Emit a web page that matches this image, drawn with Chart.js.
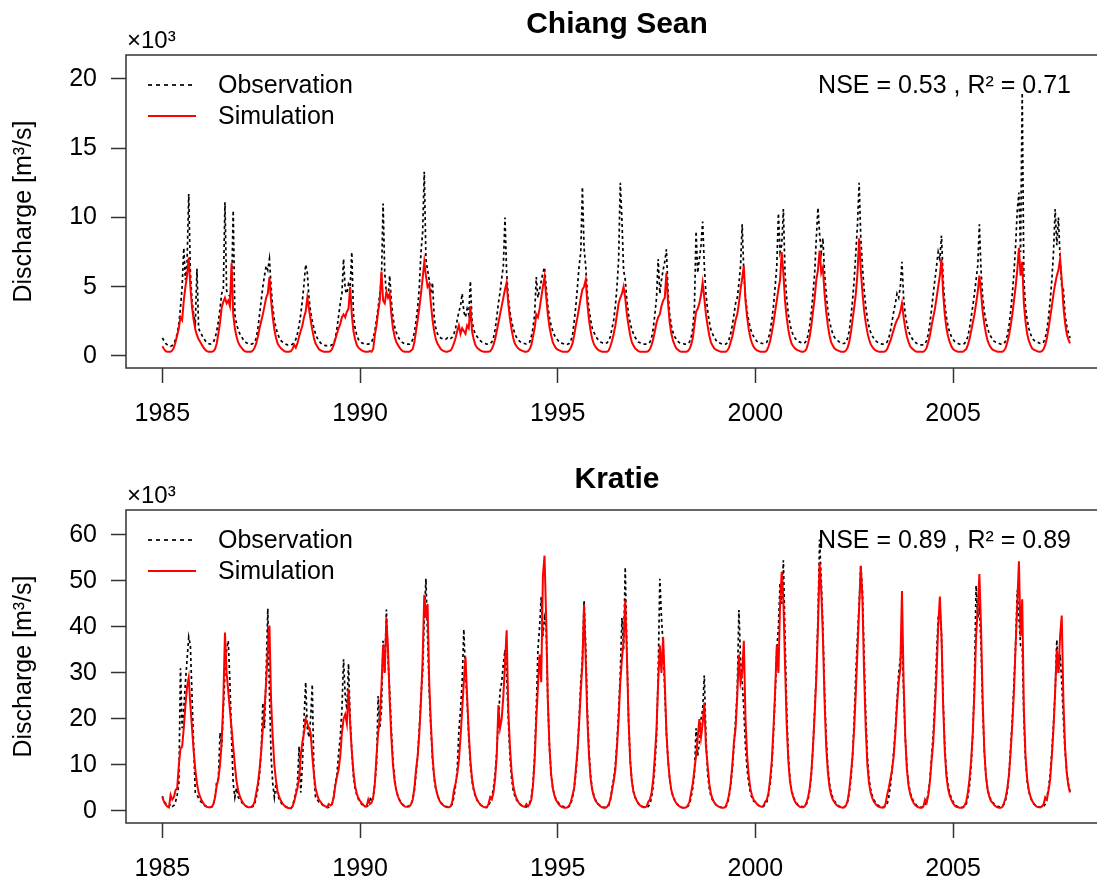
<!DOCTYPE html>
<html>
<head>
<meta charset="utf-8">
<title>Chiang Sean / Kratie discharge</title>
<script src="https://cdn.jsdelivr.net/npm/chart.js@4.4.1/dist/chart.umd.min.js"></script>
<style>
  html, body { margin: 0; padding: 0; background: #fff; overflow: hidden; }
  #wrap { position: relative; width: 1097px; height: 881px; overflow: hidden; }
  .panel { position: absolute; left: 0; width: 1120px; }
</style>
</head>
<body>
<div id="wrap">
  <div class="panel" style="top:0;height:440px"><canvas id="csChart"></canvas></div>
  <div class="panel" style="top:440px;height:441px"><canvas id="krChart"></canvas></div>
</div>
<script>
// Discharge in 10^3 m3/s, two values per month (1st and 16th)
const years = [1985,1986,1987,1988,1989,1990,1991,1992,1993,1994,1995,1996,
               1997,1998,1999,2000,2001,2002,2003,2004,2005,2006,2007];
const stepsPerYear = 24;
const xTicks = [1985, 1990, 1995, 2000, 2005];
const csTicksY = [0, 5, 10, 15, 20];
const krTicksY = [0, 10, 20, 30, 40, 50, 60];

// Chiang Sean - observation
const csObs = [
  [1.3,1.1,0.9,0.8,0.75,0.7,0.75,0.9,1.2,1.6,2.3,3.5,5.0,7.8,5.5,6.8,11.7,6.0,4.0,3.0,2.4,6.3,2.0,1.7],
  [1.5,1.3,1.1,1.0,0.9,0.85,0.9,1.0,1.3,1.8,2.5,3.4,4.5,4.8,11.1,4.7,4.5,4.3,4.6,10.5,3.0,2.3,1.9,1.6],
  [1.4,1.2,1.05,0.95,0.9,0.85,0.85,0.9,1.0,1.3,2.0,3.0,4.0,5.0,5.8,6.5,6.2,7.0,5.0,3.5,2.6,2.0,1.6,1.3],
  [1.1,1.0,0.9,0.85,0.8,0.8,0.8,0.85,0.95,1.2,1.6,2.2,3.0,4.0,5.2,6.6,6.0,4.2,3.2,2.5,2.0,1.6,1.3,1.1],
  [0.95,0.85,0.8,0.75,0.75,0.75,0.75,0.8,0.9,1.3,2.0,2.9,3.8,4.5,7.0,4.8,4.5,5.2,5.0,7.5,3.0,2.0,1.5,1.2],
  [1.05,0.95,0.9,0.85,0.85,0.85,0.9,1.0,1.3,1.8,2.6,3.5,4.5,5.5,11.0,6.0,4.5,4.2,5.8,4.0,2.8,2.1,1.7,1.4],
  [1.2,1.05,0.95,0.9,0.85,0.85,0.85,0.95,1.2,1.7,2.5,3.5,5.0,7.5,8.9,13.3,7.0,6.2,5.5,4.5,5.3,2.8,2.0,1.6],
  [1.4,1.3,1.25,1.2,1.2,1.3,1.2,1.25,1.35,1.6,2.0,2.6,3.2,3.6,4.5,3.2,2.8,3.4,3.0,5.4,2.5,1.9,1.6,1.4],
  [1.25,1.1,1.0,0.95,0.9,0.85,0.85,0.9,1.0,1.3,1.9,2.8,3.8,4.6,5.6,6.5,10.0,6.0,4.2,3.2,2.5,2.0,1.6,1.35],
  [1.15,1.05,0.95,0.9,0.9,0.85,0.9,1.0,1.4,2.0,3.0,5.7,4.2,4.8,5.4,6.0,6.4,5.0,3.6,2.8,2.2,1.8,1.5,1.3],
  [1.15,1.0,0.95,0.9,0.85,0.8,0.85,0.9,1.1,1.5,2.5,3.6,5.0,6.5,7.5,12.2,7.8,6.5,4.5,3.4,2.6,2.0,1.7,1.45],
  [1.25,1.1,1.0,0.95,0.9,0.9,0.95,1.1,1.4,2.0,2.6,3.6,5.0,7.0,12.5,9.8,6.2,5.5,4.0,3.0,2.4,1.9,1.6,1.35],
  [1.15,1.0,0.95,0.9,0.85,0.85,0.85,0.9,1.0,1.3,2.0,3.0,4.2,7.0,4.5,5.5,6.2,6.8,7.7,4.5,3.0,2.2,1.7,1.4],
  [1.2,1.05,0.95,0.9,0.9,0.85,0.85,0.9,1.0,1.3,2.0,3.5,9.0,6.0,7.0,8.0,9.7,6.5,4.5,3.3,2.5,1.9,1.6,1.35],
  [1.15,1.0,0.95,0.9,0.85,0.85,0.85,0.95,1.2,1.6,2.2,3.0,3.8,4.2,5.2,6.5,9.5,6.0,4.2,3.2,2.5,2.0,1.6,1.4],
  [1.2,1.05,1.0,0.95,0.9,0.9,0.9,1.0,1.3,1.8,2.6,3.6,5.0,6.5,10.3,7.5,8.0,10.6,6.0,4.2,3.0,2.3,1.8,1.5],
  [1.3,1.15,1.05,1.0,0.95,0.9,0.95,1.1,1.5,2.2,3.2,4.5,6.0,8.5,10.7,8.8,7.5,8.5,6.0,4.5,3.3,2.5,2.0,1.6],
  [1.35,1.2,1.1,1.0,0.95,0.9,0.9,1.0,1.3,1.8,2.8,4.0,5.5,7.5,9.5,12.5,8.5,6.5,4.8,3.6,2.7,2.1,1.7,1.45],
  [1.25,1.1,1.0,0.95,0.9,0.85,0.85,0.9,1.0,1.3,1.8,2.5,3.2,3.8,4.5,4.2,5.0,6.8,4.2,3.0,2.3,1.8,1.5,1.3],
  [1.1,1.0,0.9,0.85,0.8,0.8,0.8,0.9,1.1,1.6,2.4,3.4,4.5,5.5,6.5,7.5,7.0,8.7,5.5,3.8,2.8,2.1,1.7,1.4],
  [1.2,1.05,0.95,0.9,0.85,0.85,0.85,0.9,1.1,1.4,2.0,2.8,3.6,4.5,5.5,6.5,9.5,6.2,4.3,3.2,2.5,2.0,1.6,1.4],
  [1.2,1.05,1.0,0.95,0.9,0.85,0.85,0.9,1.1,1.5,2.2,3.2,4.5,6.0,8.0,10.5,11.8,7.5,19.0,5.5,3.5,2.6,2.0,1.6],
  [1.3,1.15,1.05,1.0,0.95,0.9,0.9,1.0,1.3,1.9,2.8,4.0,5.5,7.5,10.6,8.0,10.0,7.0,5.0,4.8,3.0,2.2,1.7,1.3]
];

// Chiang Sean - simulation
const csSim = [
  [0.7,0.5,0.35,0.3,0.3,0.3,0.4,0.6,1.0,1.5,2.0,2.8,2.6,4.0,5.0,5.8,7.1,5.0,3.5,2.6,1.9,1.5,1.2,1.0],
  [0.8,0.6,0.45,0.35,0.3,0.3,0.3,0.35,0.5,0.9,1.6,2.4,3.5,3.9,4.2,3.8,4.0,3.6,6.7,3.0,2.0,1.4,1.0,0.75],
  [0.6,0.45,0.35,0.3,0.3,0.3,0.3,0.4,0.6,0.9,1.4,2.0,2.5,3.0,3.6,4.2,4.5,5.7,4.0,2.8,1.9,1.3,0.9,0.7],
  [0.55,0.45,0.35,0.3,0.3,0.3,0.35,0.5,0.8,0.6,0.9,1.4,1.8,2.2,2.8,3.2,4.2,3.4,2.6,1.9,1.3,0.9,0.7,0.5],
  [0.4,0.35,0.3,0.3,0.3,0.3,0.35,0.5,0.8,1.2,1.6,2.0,2.3,2.8,3.0,2.8,3.2,3.4,5.0,3.0,1.8,1.2,0.8,0.6],
  [0.5,0.4,0.35,0.3,0.3,0.3,0.35,0.3,0.5,1.5,2.2,3.2,4.0,6.1,4.0,3.8,4.6,4.2,4.5,3.0,2.0,1.4,1.0,0.8],
  [0.6,0.45,0.35,0.3,0.3,0.3,0.3,0.4,0.5,1.0,1.8,2.6,3.5,4.5,5.6,6.8,5.8,5.0,5.2,3.8,2.6,1.8,1.2,0.9],
  [0.7,0.5,0.4,0.35,0.3,0.3,0.35,0.4,0.6,0.9,1.3,1.8,2.2,1.6,2.0,1.8,1.6,2.2,2.0,3.6,1.8,1.2,0.8,0.6],
  [0.5,0.4,0.35,0.3,0.3,0.3,0.3,0.35,0.5,0.8,1.2,1.8,2.4,3.0,3.6,4.2,4.8,5.3,3.8,2.7,1.9,1.3,0.9,0.7],
  [0.55,0.45,0.4,0.35,0.3,0.3,0.35,0.5,0.8,1.4,2.0,3.0,2.8,3.4,4.2,5.0,5.7,4.3,3.0,2.1,1.5,1.0,0.75,0.55],
  [0.45,0.4,0.35,0.3,0.3,0.3,0.3,0.4,0.6,0.9,1.5,2.2,2.8,3.5,4.2,4.8,5.0,5.5,3.8,2.6,1.8,1.2,0.85,0.65],
  [0.5,0.4,0.35,0.3,0.3,0.3,0.3,0.4,0.7,1.1,1.6,2.2,3.0,3.8,4.2,4.5,5.0,4.2,3.0,2.2,1.5,1.0,0.75,0.55],
  [0.45,0.35,0.3,0.3,0.3,0.3,0.3,0.35,0.5,0.8,1.2,1.8,2.4,2.8,3.0,3.6,4.0,4.2,6.0,3.8,2.4,1.6,1.1,0.8],
  [0.55,0.45,0.35,0.3,0.3,0.3,0.3,0.35,0.5,0.8,1.3,2.2,3.2,3.4,3.8,4.4,5.3,4.2,3.0,2.2,1.5,1.0,0.75,0.55],
  [0.45,0.4,0.35,0.3,0.3,0.3,0.3,0.4,0.6,1.0,1.4,2.0,2.6,3.0,3.8,4.8,5.6,6.5,4.0,2.8,1.9,1.3,0.9,0.65],
  [0.5,0.4,0.35,0.3,0.3,0.3,0.3,0.4,0.7,1.1,1.7,2.4,3.2,4.0,4.8,5.5,7.5,6.0,4.0,2.8,1.9,1.3,0.9,0.7],
  [0.55,0.45,0.4,0.35,0.3,0.3,0.35,0.5,0.9,1.4,2.2,3.2,4.2,5.5,6.2,7.6,6.0,6.4,4.5,3.2,2.2,1.5,1.0,0.75],
  [0.55,0.45,0.4,0.35,0.3,0.3,0.3,0.4,0.6,1.0,1.7,2.6,3.5,4.5,6.0,8.5,6.2,4.6,3.3,2.4,1.7,1.2,0.85,0.65],
  [0.5,0.4,0.35,0.3,0.3,0.3,0.3,0.35,0.5,0.8,1.1,1.5,1.9,2.3,2.6,2.8,3.2,3.8,2.8,2.0,1.4,1.0,0.7,0.55],
  [0.45,0.35,0.3,0.3,0.3,0.3,0.3,0.4,0.6,1.0,1.5,2.2,2.8,3.4,4.2,5.0,5.8,7.0,4.5,3.0,2.0,1.4,1.0,0.7],
  [0.5,0.4,0.35,0.3,0.3,0.3,0.3,0.4,0.5,0.8,1.2,1.8,2.4,3.0,3.8,4.6,5.8,4.6,3.2,2.3,1.6,1.1,0.8,0.6],
  [0.45,0.4,0.35,0.3,0.3,0.3,0.3,0.4,0.6,1.0,1.5,2.2,3.0,4.0,5.0,6.2,7.8,5.8,6.8,3.8,2.5,1.6,1.1,0.8],
  [0.55,0.45,0.4,0.35,0.3,0.3,0.35,0.5,0.8,1.3,2.0,2.8,3.6,4.5,5.2,5.8,6.2,7.0,5.5,3.6,2.4,1.6,1.2,0.9]
];

// Kratie - observation
const krObs = [
  [3.2,2.2,1.6,1.2,1.0,1.5,1.0,1.2,2.0,3.5,6.0,31.0,18.0,22.0,28.0,33.0,37.8,36.0,25.0,14.0,4.0,3.5,2.8,2.2],
  [1.8,1.4,1.1,0.9,0.8,0.8,0.9,1.5,3.0,6.5,7.0,17.0,14.0,22.0,30.0,35.0,37.0,28.0,16.0,6.0,3.0,5.0,3.0,2.5],
  [2.0,1.5,1.2,1.0,0.9,0.8,0.9,1.0,1.5,3.0,5.0,8.0,13.0,23.5,18.0,30.0,44.0,26.0,12.0,6.0,3.0,6.0,3.5,2.5],
  [1.8,1.4,1.1,0.9,0.8,0.7,0.6,1.0,2.5,4.0,6.0,14.0,4.0,10.0,20.0,28.0,18.0,16.0,20.0,27.5,8.0,3.0,2.5,2.0],
  [1.8,1.4,1.1,0.9,0.8,0.8,1.0,1.5,3.0,6.0,8.0,12.5,16.0,22.0,33.0,25.0,22.0,32.0,20.0,13.0,7.5,5.0,3.5,2.6],
  [2.0,1.5,1.2,1.0,1.0,1.2,3.0,2.0,3.0,6.0,10.0,25.0,18.0,22.0,37.0,30.0,43.8,33.0,26.0,18.0,11.0,7.0,4.5,3.2],
  [2.4,1.8,1.4,1.1,1.0,1.0,1.1,1.5,2.5,4.5,8.0,12.0,18.0,25.0,30.0,42.0,50.5,38.0,26.0,18.0,11.0,7.0,4.8,3.4],
  [2.5,1.9,1.5,1.2,1.0,0.9,0.9,1.0,1.5,3.0,5.5,9.0,17.5,22.0,28.0,39.5,30.0,24.0,16.0,10.0,6.5,4.5,3.2,2.4],
  [1.8,1.4,1.1,0.9,0.8,0.8,1.0,2.0,3.0,5.0,8.0,13.0,20.0,26.0,28.0,32.0,35.0,30.0,20.0,12.0,7.0,4.5,3.2,2.4],
  [2.0,1.5,1.2,1.0,0.9,0.9,1.2,1.8,3.0,6.0,12.0,22.0,35.0,40.0,46.5,38.0,42.0,40.0,24.0,14.0,8.0,5.0,3.4,2.5],
  [2.0,1.5,1.2,1.0,0.9,0.8,0.8,1.0,1.5,3.0,5.0,8.0,13.0,20.0,28.0,33.0,45.8,36.0,22.0,13.0,7.5,4.8,3.3,2.4],
  [1.8,1.4,1.1,0.9,0.8,0.8,0.9,1.2,2.5,5.0,7.0,10.0,15.0,22.0,30.0,42.0,35.0,53.0,35.0,20.0,11.0,6.5,4.2,3.0],
  [2.2,1.6,1.3,1.0,0.9,0.8,0.8,1.0,1.5,3.0,5.5,10.0,16.0,30.0,50.5,42.0,36.0,26.0,17.0,11.0,7.0,4.5,3.2,2.4],
  [1.8,1.3,1.0,0.8,0.7,0.7,0.8,1.0,1.5,3.0,5.0,8.0,18.0,12.0,15.0,20.0,22.0,29.5,16.0,8.0,5.0,3.3,2.4,1.8],
  [1.4,1.1,0.9,0.8,0.7,0.7,0.9,1.5,3.0,5.5,9.0,14.0,20.0,26.0,43.7,33.0,28.0,22.0,14.0,9.0,6.0,4.0,2.8,2.1],
  [2.0,1.5,1.2,1.0,0.9,1.0,1.5,2.0,3.5,6.0,10.0,17.0,25.0,35.0,40.0,49.5,45.0,54.5,38.0,22.0,12.0,7.0,4.5,3.2],
  [2.3,1.7,1.3,1.1,1.0,0.9,1.0,1.5,2.5,4.5,8.0,14.0,22.0,30.0,42.0,59.0,50.0,40.0,26.0,16.0,9.5,6.0,4.0,2.9],
  [2.2,1.6,1.3,1.0,0.9,0.8,0.9,1.2,2.0,4.0,7.0,12.0,20.0,30.0,38.0,45.0,53.5,48.0,34.0,21.0,12.0,7.0,4.6,3.3],
  [2.4,1.8,1.4,1.1,1.0,0.9,0.9,1.0,1.5,3.0,5.5,9.0,13.0,18.0,24.0,30.0,33.0,36.5,26.0,16.0,9.5,6.0,4.0,2.9],
  [2.1,1.6,1.2,1.0,0.9,0.8,0.9,1.2,2.0,4.0,7.0,12.0,17.0,24.0,34.0,42.0,44.0,38.0,24.0,14.0,8.5,5.5,3.8,2.8],
  [2.0,1.5,1.1,0.9,0.8,0.8,0.8,1.0,1.5,3.0,5.5,10.0,17.0,28.0,49.0,42.0,44.0,36.0,22.0,13.0,7.5,4.8,3.3,2.4],
  [2.0,1.5,1.2,1.0,0.9,0.9,1.0,1.5,2.5,4.5,8.0,14.0,20.0,28.0,36.0,48.0,42.0,36.0,35.7,20.0,11.0,6.5,4.3,3.0],
  [2.1,1.6,1.2,1.0,0.9,0.8,0.9,1.0,1.5,3.0,5.0,8.0,13.0,19.0,26.0,37.2,30.0,34.0,28.0,20.0,13.0,8.5,6.0,4.3]
];

// Kratie - simulation
const krSim = [
  [3.0,2.0,1.4,1.0,0.8,3.5,2.5,3.0,4.5,5.0,10.0,13.5,14.0,18.0,23.0,27.0,29.0,23.0,18.0,13.0,9.0,6.0,4.0,3.0],
  [2.2,1.6,1.2,0.9,0.8,0.8,0.9,1.5,3.0,5.5,7.0,10.0,15.0,24.0,38.8,30.0,26.0,22.0,18.0,14.0,10.0,6.5,4.5,3.2],
  [2.4,1.7,1.3,1.0,0.8,0.8,0.9,1.2,2.0,4.0,6.0,9.0,13.0,18.0,22.0,28.0,35.0,40.3,24.0,16.0,10.0,6.5,4.2,3.0],
  [2.2,1.6,1.2,0.9,0.7,0.6,0.6,1.0,2.0,3.5,5.0,7.0,12.0,15.0,17.0,20.0,19.0,18.0,17.0,12.0,8.0,5.0,3.5,2.5],
  [2.0,1.5,1.2,1.0,0.8,1.5,1.2,1.5,3.0,5.5,7.5,9.0,12.0,17.0,20.0,21.0,19.0,26.5,19.0,13.0,8.5,5.5,3.8,2.8],
  [2.2,1.7,1.3,1.0,1.0,2.5,1.5,1.8,3.0,6.0,12.0,17.0,20.0,27.0,36.0,30.0,42.0,35.0,24.0,16.0,10.0,6.5,4.5,3.2],
  [2.3,1.7,1.3,1.0,0.9,0.9,1.0,1.5,2.5,5.0,9.0,12.0,17.0,24.0,33.0,47.0,42.0,45.0,28.0,19.0,12.0,7.5,5.0,3.5],
  [2.4,1.8,1.4,1.1,0.9,0.8,0.8,1.0,2.0,4.5,6.0,8.0,11.0,16.0,22.0,28.0,33.5,25.0,17.0,11.0,7.0,4.8,3.4,2.5],
  [1.9,1.4,1.1,0.9,0.8,0.8,1.5,3.0,2.5,4.0,7.0,12.0,23.0,18.0,20.0,25.0,32.0,39.3,22.0,14.0,8.5,5.5,3.8,2.7],
  [2.0,1.5,1.2,1.0,0.9,1.5,1.0,1.5,2.5,5.5,11.0,20.0,27.0,34.0,28.0,51.0,55.5,42.0,24.0,14.0,8.0,5.0,3.4,2.4],
  [1.8,1.3,1.0,0.8,0.7,0.7,0.8,1.2,2.0,3.5,5.0,9.0,13.0,19.0,26.0,32.0,44.8,33.0,20.0,12.0,7.0,4.5,3.1,2.2],
  [1.7,1.3,1.0,0.8,0.7,0.7,0.9,1.5,2.5,4.5,6.5,9.0,14.0,20.0,28.0,33.0,37.0,45.8,34.0,20.0,11.0,6.5,4.2,3.0],
  [2.2,1.6,1.2,1.0,0.8,0.8,1.0,2.0,2.5,4.0,7.0,12.0,18.0,28.0,36.0,30.0,37.8,28.0,17.0,11.0,7.0,4.5,3.2,2.3],
  [1.7,1.3,1.0,0.8,0.7,0.7,0.8,1.2,2.0,4.0,6.0,9.0,12.0,16.0,20.0,16.0,19.0,23.5,14.0,10.0,6.0,3.8,2.6,1.9],
  [1.4,1.1,0.9,0.8,0.7,0.7,1.0,2.0,3.5,6.0,10.0,15.0,18.0,25.0,34.0,28.0,30.0,37.0,20.0,12.0,7.5,4.8,3.3,2.4],
  [2.0,1.5,1.2,1.0,0.9,1.2,2.0,2.5,4.0,7.0,11.0,18.0,26.0,36.0,30.0,45.0,52.0,46.0,32.0,19.0,11.0,6.5,4.3,3.0],
  [2.1,1.5,1.2,0.9,0.8,0.8,1.0,1.8,3.0,5.0,8.5,14.0,21.0,29.0,40.0,54.0,48.0,38.0,24.0,14.0,8.5,5.2,3.5,2.5],
  [1.9,1.4,1.1,0.9,0.8,0.7,0.8,1.2,2.2,4.5,8.0,12.0,18.0,26.0,35.0,44.0,53.3,46.0,30.0,18.0,10.0,6.0,4.0,2.8],
  [2.0,1.5,1.1,0.9,0.8,0.7,0.8,1.5,3.5,5.0,7.0,9.0,12.0,17.0,23.0,28.0,31.0,47.8,28.0,16.0,9.0,5.5,3.7,2.6],
  [1.8,1.3,1.0,0.8,0.7,0.7,1.0,2.5,1.8,3.5,6.5,11.0,15.0,22.0,30.0,40.0,46.6,38.0,23.0,13.0,7.5,4.8,3.3,2.4],
  [1.7,1.2,0.9,0.8,0.7,0.7,0.8,1.2,2.0,4.0,7.0,11.0,17.0,26.0,38.0,44.0,51.5,40.0,24.0,13.0,7.5,4.6,3.1,2.2],
  [1.8,1.3,1.0,0.8,0.7,0.7,0.9,1.8,3.0,5.0,8.0,13.0,19.0,26.0,36.0,45.0,54.3,38.0,46.0,22.0,12.0,7.0,4.5,3.1],
  [2.2,1.6,1.2,0.9,0.8,0.8,1.0,1.5,3.0,2.5,4.5,7.0,12.0,18.0,26.0,35.0,30.0,38.0,42.5,24.0,14.0,8.5,5.5,4.0]
];

const FONT = '"Liberation Sans", Arial, Helvetica, sans-serif';
Chart.defaults.font.family = FONT;
Chart.defaults.color = '#000';

function toPoints(rows) {
  const pts = [];
  rows.forEach((row, k) => {
    row.forEach((v, i) => pts.push({ x: years[k] + i / stepsPerYear, y: v }));
  });
  return pts;
}

// box, title, x10^3, y title, legend and goodness-of-fit text
const framePlugin = {
  id: 'frame',
  afterDraw(chart, args, opts) {
    const { ctx, chartArea: a } = chart;
    ctx.save();
    ctx.strokeStyle = '#333';
    ctx.lineWidth = 1.5;
    ctx.strokeRect(a.left, a.top, a.right - a.left, a.bottom - a.top);

    ctx.fillStyle = '#000';
    ctx.textBaseline = 'middle';
    ctx.font = 'bold 30px ' + FONT;
    ctx.textAlign = 'center';
    ctx.fillText(opts.title, (a.left + a.right) / 2, a.top - 30);

    ctx.font = '24px ' + FONT;
    ctx.textAlign = 'left';
    ctx.fillText('\u00d710\u00b3', a.left + 1, a.top - 14);

    ctx.save();
    ctx.translate(24, (a.top + a.bottom) / 2);
    ctx.rotate(-Math.PI / 2);
    ctx.textAlign = 'center';
    ctx.font = '25px ' + FONT;
    ctx.fillText('Discharge [m\u00b3/s]', 0, 0);
    ctx.restore();

    // legend
    ctx.font = '25px ' + FONT;
    ctx.lineWidth = 1.7;
    ctx.strokeStyle = '#000';
    ctx.setLineDash([4, 4]);
    ctx.beginPath();
    ctx.moveTo(148, a.top + 30);
    ctx.lineTo(196, a.top + 30);
    ctx.stroke();
    ctx.setLineDash([]);
    ctx.strokeStyle = '#ff0000';
    ctx.lineWidth = 2;
    ctx.beginPath();
    ctx.moveTo(148, a.top + 61);
    ctx.lineTo(196, a.top + 61);
    ctx.stroke();
    ctx.textAlign = 'left';
    ctx.fillText('Observation', 218, a.top + 31);
    ctx.fillText('Simulation', 218, a.top + 62);

    ctx.textAlign = 'right';
    ctx.fillText(opts.stats, 1071, a.top + 31);
    ctx.restore();
  }
};

function makeChart(id, obs, sim, yMin, yMax, yTicks, topPad, xHeight, title, stats) {
  const ctx = document.getElementById(id).getContext('2d');
  return new Chart(ctx, {
    type: 'line',
    data: {
      datasets: [
        {
          label: 'Observation',
          data: toPoints(obs),
          borderColor: '#000',
          borderWidth: 1.7,
          borderDash: [3, 3],
          pointRadius: 0,
          tension: 0,
          order: 2
        },
        {
          label: 'Simulation',
          data: toPoints(sim),
          borderColor: '#ff0000',
          borderWidth: 2,
          pointRadius: 0,
          tension: 0,
          order: 1
        }
      ]
    },
    options: {
      responsive: true,
      maintainAspectRatio: false,
      animation: false,
      events: [],
      layout: { padding: { left: 0, top: topPad, right: 12, bottom: 0 } },
      plugins: {
        legend: { display: false },
        tooltip: { enabled: false },
        frame: { title: title, stats: stats }
      },
      scales: {
        x: {
          type: 'linear',
          min: 1984.08,
          max: 2008.92,
          afterBuildTicks: s => { s.ticks = xTicks.map(v => ({ value: v })); },
          afterFit: s => { s.height = xHeight; },
          grid: { drawOnChartArea: false, drawTicks: true, tickLength: 15, tickWidth: 1.5, tickColor: '#333' },
          border: { display: false },
          ticks: { font: { size: 25 }, padding: 16, maxRotation: 0, autoSkip: false, callback: v => String(v) }
        },
        y: {
          min: yMin,
          max: yMax,
          afterBuildTicks: s => { s.ticks = yTicks.map(v => ({ value: v })); },
          afterFit: s => { s.width = 126; },
          grid: { drawOnChartArea: false, drawTicks: true, tickLength: 15, tickWidth: 1.5, tickColor: '#333' },
          border: { display: false },
          ticks: { font: { size: 25 }, padding: 14, callback: v => String(v) }
        }
      }
    },
    plugins: [framePlugin]
  });
}

makeChart('csChart', csObs, csSim, -0.87, 21.73, csTicksY, 55, 72,
  'Chiang Sean', 'NSE = 0.53 , R\u00b2 = 0.71');
makeChart('krChart', krObs, krSim, -2.61, 65.43, krTicksY, 70, 58,
  'Kratie', 'NSE = 0.89 , R\u00b2 = 0.89');
</script>
</body>
</html>
